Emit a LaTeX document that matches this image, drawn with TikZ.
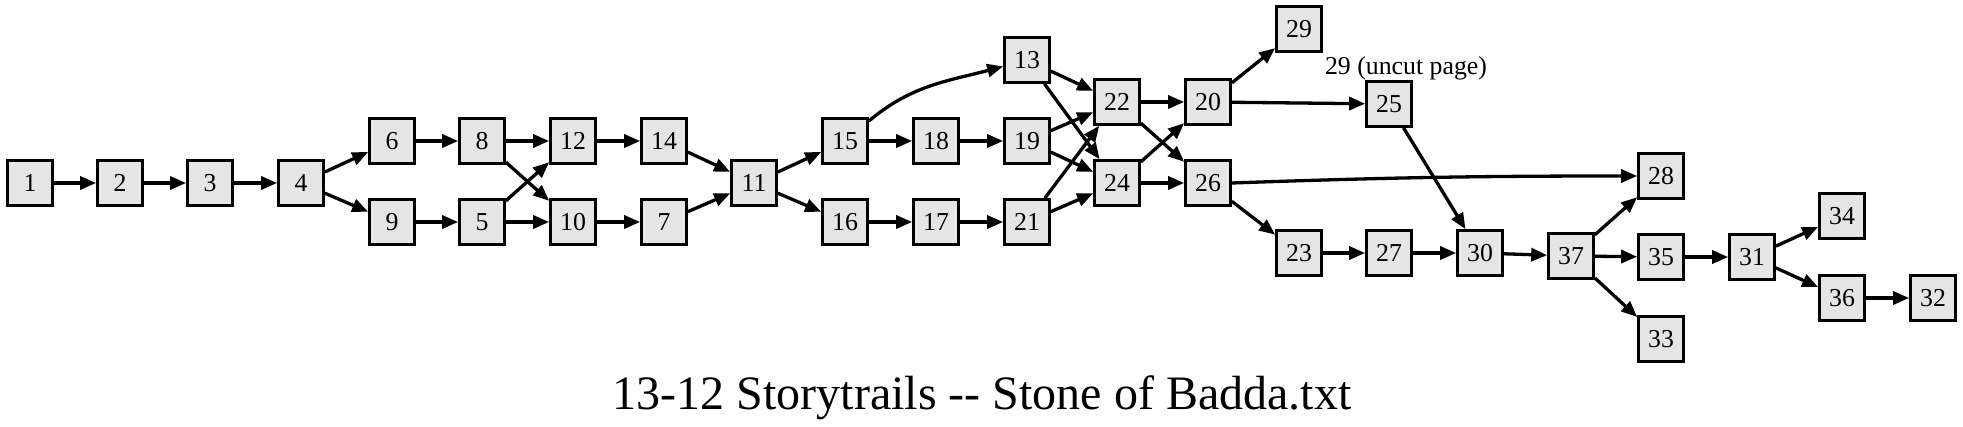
\documentclass[tikz,border=0pt]{standalone}
\usepackage{fontspec}
\setmainfont{Liberation Serif}
\usetikzlibrary{arrows.meta}
\definecolor{boxgray}{HTML}{E5E5E5}
\tikzset{
    page/.style={draw, rectangle, fill=boxgray, line width=2.7pt, minimum width=45pt, minimum height=45pt, inner sep=0pt, font=\fontsize{25.8}{28}\selectfont},
    trail/.style={line width=3.3pt, -{Triangle[length=16pt,width=13pt]}},
}
\begin{document}
\begin{tikzpicture}[x=1pt, y=-1pt]
    \useasboundingbox (0,0) rectangle (1963,427);

    % pages, left to right
    \node[page] (n1) at (30,183) {1};
    \node[page] (n2) at (120,183) {2};
    \node[page] (n3) at (210,183) {3};
    \node[page] (n4) at (301,183) {4};
    \node[page] (n6) at (392,141) {6};
    \node[page] (n9) at (392,222) {9};
    \node[page] (n8) at (482,141) {8};
    \node[page] (n5) at (482,222) {5};
    \node[page] (n12) at (573,141) {12};
    \node[page] (n10) at (573,222) {10};
    \node[page] (n14) at (664,141) {14};
    \node[page] (n7) at (664,222) {7};
    \node[page] (n11) at (754,183) {11};
    \node[page] (n15) at (845,141) {15};
    \node[page] (n16) at (845,222) {16};
    \node[page] (n18) at (936,141) {18};
    \node[page] (n17) at (936,222) {17};
    \node[page] (n13) at (1027,60) {13};
    \node[page] (n19) at (1027,141) {19};
    \node[page] (n21) at (1027,222) {21};
    \node[page] (n22) at (1117,102) {22};
    \node[page] (n24) at (1117,183) {24};
    \node[page] (n20) at (1208,102) {20};
    \node[page] (n26) at (1208,183) {26};
    \node[page] (n29) at (1299,29) {29};
    \node[page] (n23) at (1299,253) {23};
    \node[page] (n25) at (1389,104) {25};
    \node[page] (n27) at (1389,253) {27};
    \node[page] (n30) at (1480,253) {30};
    \node[page] (n37) at (1571,256) {37};
    \node[page] (n28) at (1661,176) {28};
    \node[page] (n35) at (1661,257) {35};
    \node[page] (n33) at (1661,339) {33};
    \node[page] (n31) at (1752,257) {31};
    \node[page] (n34) at (1842,216) {34};
    \node[page] (n36) at (1842,298) {36};
    \node[page] (n32) at (1933,298) {32};

    % trails
    \draw[trail] (n1) -- (n2);
    \draw[trail] (n2) -- (n3);
    \draw[trail] (n3) -- (n4);
    \draw[trail] (n4) -- (n6);
    \draw[trail] (n4) -- (n9);
    \draw[trail] (n6) -- (n8);
    \draw[trail] (n9) -- (n5);
    \draw[trail] (n8) -- (n12);
    \draw[trail] (n8) -- (n10);
    \draw[trail] (n5) -- (n12);
    \draw[trail] (n5) -- (n10);
    \draw[trail] (n12) -- (n14);
    \draw[trail] (n10) -- (n7);
    \draw[trail] (n14) -- (n11);
    \draw[trail] (n7) -- (n11);
    \draw[trail] (n11) -- (n15);
    \draw[trail] (n11) -- (n16);
    \draw[trail] (n15) to[out=40, in=195] (n13);
    \draw[trail] (n15) -- (n18);
    \draw[trail] (n18) -- (n19);
    \draw[trail] (n16) -- (n17);
    \draw[trail] (n17) -- (n21);
    \draw[trail] (n13) -- (n22);
    \draw[trail] (n13) -- (n24);
    \draw[trail] (n19) -- (n22);
    \draw[trail] (n19) -- (n24);
    \draw[trail] (n21) -- (n22);
    \draw[trail] (n21) -- (n24);
    \draw[trail] (n22) -- (n20);
    \draw[trail] (n22) -- (n26);
    \draw[trail] (n24) -- (n20);
    \draw[trail] (n24) -- (n26);
    \draw[trail] (n20) -- (n29);
    \draw[trail] (n20) -- (n25);
    \draw[trail] (n26.east) to[out=2, in=180] (n28.west);
    \draw[trail] (n26) -- (n23);
    \draw[trail] (n23) -- (n27);
    \draw[trail] (n27) -- (n30);
    \draw[trail] (n25) -- (n30);
    \draw[trail] (n30) -- (n37);
    \draw[trail] (n37) -- (n28);
    \draw[trail] (n37) -- (n35);
    \draw[trail] (n37) -- (n33);
    \draw[trail] (n35) -- (n31);
    \draw[trail] (n31) -- (n34);
    \draw[trail] (n31) -- (n36);
    \draw[trail] (n36) -- (n32);

    \node[font=\fontsize{25.8}{28}\selectfont] (uncut) at (1406,68) {29 (uncut page)};

    \node[font=\fontsize{48}{52}\selectfont, anchor=base] (title) at (982,410) {13-12 Storytrails -\kern0pt- Stone of Badda.txt};
\end{tikzpicture}
\end{document}
